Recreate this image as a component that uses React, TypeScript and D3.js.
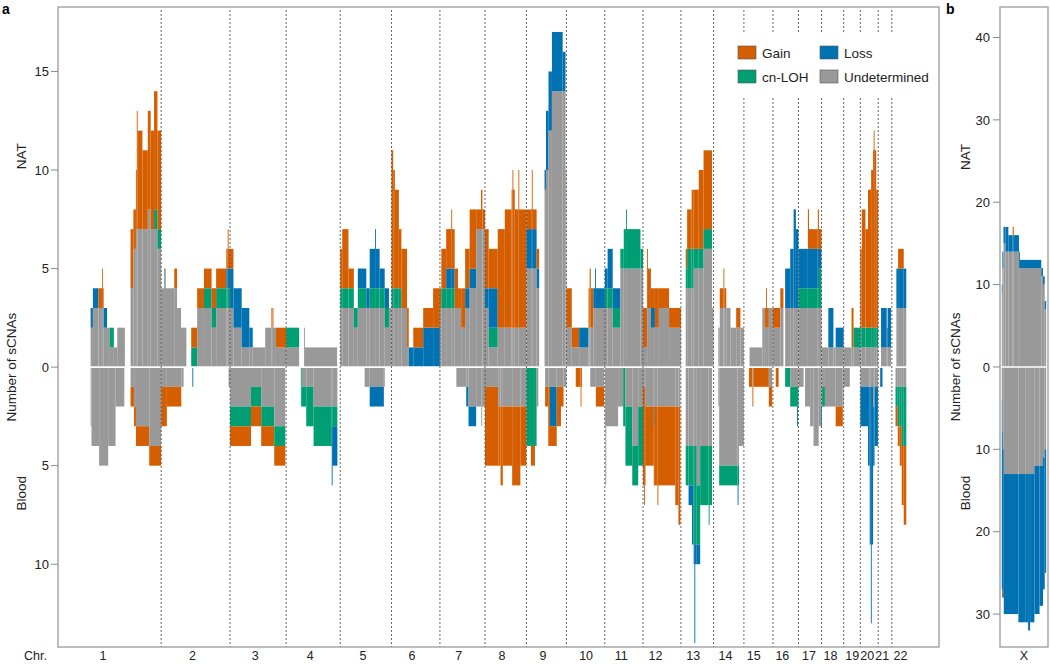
import React from 'react';
import * as d3 from 'd3';

// ---------------- data ----------------
const chromosomes = ['1','2','3','4','5','6','7','8','9','10','11','12','13','14','15','16','17','18','19','20','21','22'];
const chromLengthsMb = [249.25,243.2,198.02,191.15,180.92,171.12,159.14,146.36,141.21,135.53,135.01,133.85,115.17,107.35,102.53,90.35,81.2,78.08,59.13,63.03,48.13,51.3];
// label positions along the genome (Mb)
const chromLabelMb = [44,360,581,776,962,1135,1300,1453,1598,1750,1874,1995,2128,2242,2342,2443,2537,2613,2690,2743,2796,2860];
const xChromLengthMb = 155.27;

const categories = ['Undetermined','cn-LOH','Loss','Gain'];
const categoryColors = ['#999999','#009E73','#0072B2','#D55E00'];
const legendOrder = ['Gain','Loss','cn-LOH','Undetermined'];

const natTicks = [0,5,10,15];
const bloodTicks = [5,10];
const xNatTicks = [0,10,20,30,40];
const xBloodTicks = [10,20,30];

// [chromosome, startMb, endMb, undetermined, cnLOH, loss, gain]
const natSegments = [
  [1,0,8,2,0,1,0],[1,8,28,3,0,1,0],[1,28,40,3,0,0,1],[1,40,42,3,0,0,2],[1,42,46,3,0,0,1],[1,46,58,2,0,1,0],
  [1,58,68,2,0,0,0],[1,68,82,1,1,0,0],[1,82,94,1,0,0,0],[1,94,121,2,0,0,0],
  [1,141,151,4,0,0,3],[1,151,160,6,0,0,2],[1,160,163,7,0,0,3],[1,163,166,7,0,0,6],[1,166,183,7,0,0,5],
  [1,183,202,7,0,0,4],[1,202,212,8,0,0,5],[1,212,224,7,0,0,5],[1,224,236,7,1,0,6],[1,236,249,6,1,0,5],
  [2,0,10,4,0,0,0],[2,10,11,5,0,0,0],[2,11,13,4,0,0,0],[2,13,14,5,0,0,0],[2,14,46,4,0,0,0],[2,46,56,4,0,0,1],
  [2,56,70,3,0,0,0],[2,70,89,2,0,0,0],[2,106,127,0,1,0,1],[2,127,151,3,0,0,1],[2,151,178,3,1,0,1],
  [2,178,194,2,1,0,1],[2,194,230,3,1,0,1],[2,230,235,3,1,1,1],[2,235,236.5,3,1,1,2],[2,236.5,243,3,1,1,1],
  [3,0,12,3,0,2,1],[3,12,41,2,0,2,0],[3,41,68,1,0,2,0],[3,68,80,1,0,1,0],[3,80,124,1,0,0,0],
  [3,124,146,2,0,0,0],[3,146,147.5,2,0,0,1],[3,147.5,150,2,0,0,0],[3,150,151.5,2,0,0,1],[3,151.5,162,2,0,0,0],[3,162,198,1,0,0,1],
  [4,0,46,1,1,0,0],[4,63,66,2,0,0,0],[4,66,180,1,0,0,0],
  [5,0,7,3,1,0,2],[5,7,29,3,1,0,3],[5,29,48,3,1,0,1],[5,48,62,2,1,0,0],[5,62,92,3,1,1,0],[5,92,104,3,0,1,0],
  [5,104,123,3,1,2,0],[5,123,126,3,1,3,0],[5,126,139,3,1,2,0],[5,139,157,3,1,1,0],[5,157,172,2,1,1,0],[5,172,181,3,0,0,0],
  [6,0,6,3,1,0,7],[6,6,12,3,1,0,6],[6,12,26,3,1,0,5],[6,26,35,3,1,0,3],[6,35,55,3,0,0,3],[6,55,61,1,0,0,2],
  [6,61,77,0,0,1,0],[6,77,112,0,0,1,1],[6,112,147,0,0,2,1],[6,147,171,0,0,2,2],
  [7,0,5,3,0,0,1],[7,5,22,3,1,0,2],[7,22,40,3,1,1,2],[7,40,42,3,1,1,3],[7,42,52,3,1,1,2],[7,52,64,3,0,0,2],
  [7,64,75,3,0,0,1],[7,75,89,2,0,0,2],[7,89,105,3,0,1,2],[7,105,128,4,0,1,3],[7,128,145,7,0,0,1],[7,145,150,7,0,0,2],[7,150,159,7,0,0,1],
  [8,0,13,3,0,1,3],[8,13,45,1,1,2,2],[8,45,70,2,0,0,5],[8,70,94,2,0,0,6],[8,94,97,2,0,0,7],[8,97,98.5,2,0,0,8],
  [8,98.5,105,2,0,0,7],[8,105,118,2,0,0,6],[8,118,119.5,2,0,0,8],[8,119.5,146,2,0,0,6],
  [9,0,19,5,0,2,1],[9,19,21,5,0,2,3],[9,21,36,5,0,2,1],[9,36,45,4,0,1,1],
  [9,64,69,9,0,1,0],[9,69,78,10,0,3,0],[9,78,90,12,0,3,0],[9,90,128,14,0,3,0],[9,128,138,14,0,2,0],[9,138,141,10,0,0,0],
  [10,0,19,2,0,0,2],[10,19,45,1,0,0,1],[10,45,78,1,0,1,0],[10,78,82,2,0,0,2],[10,82,86,2,0,0,3],[10,86,95,2,0,0,2],
  [10,95,101,3,0,1,0],[10,101,103,3,0,2,0],[10,103,136,3,0,1,0],
  [11,0,10,3,1,1,0],[11,10,28,3,1,2,0],[11,28,55,2,1,1,0],[11,55,67,5,1,0,0],[11,67,75,5,2,0,0],[11,75,77,5,3,0,0],
  [11,77,126,5,2,0,0],[11,126,135,5,1,0,0],
  [12,0,14,1,0,0,2],[12,14,17,3,0,0,3],[12,17,28,3,0,0,2],[12,28,42,2,0,1,1],[12,42,56,2,0,0,2],[12,56,92,3,0,0,1],[12,92,134,2,0,0,1],
  [13,17,22,4,1,0,1],[13,22,38,4,2,0,2],[13,38,45,4,2,0,3],[13,45,63,5,1,0,3],[13,63,80,5,1,0,4],[13,80,110,6,1,0,4],[13,110,115,3,0,0,0],
  [14,17,22,2,0,0,0],[14,22,35,3,0,0,1],[14,35,38,3,0,0,2],[14,38,45,3,0,0,1],[14,45,60,3,0,0,0],[14,60,80,2,0,0,0],[14,80,95,2,0,0,1],[14,95,107,2,0,0,0],
  [15,20,65,1,0,0,0],[15,65,74,3,0,0,0],[15,74,78,2,0,0,1],[15,78,80,2,0,0,2],[15,80,88,2,0,0,1],[15,88,102,3,0,0,0],
  [16,0,26,2,0,0,1],[16,26,37,3,0,0,1],[16,43,61,3,0,2,0],[16,61,73,3,0,3,0],[16,73,81,3,0,5,0],[16,81,90,3,0,4,0],
  [17,0,33,3,1,2,0],[17,33,37,3,1,2,2],[17,37,68,3,1,2,1],[17,68,72,3,1,2,2],[17,72,81,3,2,1,1],
  [18,0,24,1,0,0,0],[18,24,42,1,0,2,0],[18,42,50,1,0,0,0],[18,50,78,1,0,1,0],
  [19,0,28,1,0,0,0],[19,28,35,1,0,0,2],[19,35,59,1,1,0,0],
  [20,0,5,1,1,0,4],[20,5,18,1,1,0,6],[20,18,27,1,1,0,5],[20,27,38,1,1,0,7],[20,38,45,1,1,0,8],[20,45,47,1,1,0,9],
  [20,47,49,1,1,0,10],[20,49,56,1,1,0,9],[20,56,63,1,1,0,7],
  [21,10,30,1,0,2,0],[21,30,33,1,0,1,0],[21,33,45,1,0,2,0],
  [22,16,22,3,0,2,0],[22,22,42,3,0,2,1],[22,42,51,3,0,2,0],
];

const bloodSegments = [
  [1,0,3,3,0,0,0],[1,3,30,4,0,0,0],[1,30,62,5,0,0,0],[1,62,88,4,0,0,0],[1,88,119,2,0,0,0],
  [1,141,153,1,0,0,1],[1,153,160,2,0,0,1],[1,160,207,3,0,0,1],[1,207,249,4,0,0,1],
  [2,0,20,1,0,0,2],[2,20,71,1,0,0,1],[2,71,79,1,0,0,0],[2,110,111.5,0,0,1,0],[2,238,243,1,0,0,0],
  [3,0,74,2,1,0,1],[3,74,110,1,1,0,1],[3,110,156,2,1,0,1],[3,156,195,3,1,0,1],
  [4,52,55,0,2,0,0],[4,55,71,1,1,0,0],[4,71,97,1,2,0,0],[4,97,161,2,2,0,0],[4,161,163,2,1,3,0],[4,163,181,2,1,2,0],
  [5,86,104,1,0,0,0],[5,104,154,1,0,1,0],[5,154,157,1,0,0,0],
  [7,58,93,1,0,0,0],[7,93,101,1,0,1,0],[7,101,128,2,0,1,0],[7,128,146,2,0,0,0],[7,146,149,3,0,0,0],[7,149,159,2,0,0,0],
  [8,0,47,1,0,0,4],[8,47,55,2,0,0,3],[8,55,63,2,0,0,4],[8,63,96,2,0,0,3],[8,96,125,2,0,0,4],[8,125,146,2,0,0,3],
  [9,0,16,0,4,0,0],[9,16,30,0,4,0,1],[9,30,36,0,4,0,0],[9,36,42,2,0,0,0],
  [9,66,77,1,0,0,1],[9,77,83,1,0,0,3],[9,83,107,1,0,2,1],[9,107,122,1,0,0,2],[9,122,131,1,0,0,1],[9,131,141,1,0,0,0],
  [10,33,50,0,0,0,1],[10,50,51.5,0,0,0,2],[10,51.5,53,0,0,0,1],[10,84,104,1,0,0,0],[10,104,133,1,0,0,1],
  [11,0,2,3,0,0,0],[11,2,4,6,0,0,0],[11,4,47,3,0,0,0],[11,47,65,2,0,0,0],[11,65,73,0,3,0,0],
  [11,73,97,2,3,0,0],[11,97,118,4,2,0,0],[11,118,135,2,3,0,0],
  [12,0,4,1,0,0,5],[12,4,5.5,1,0,0,6],[12,5.5,8,1,0,0,5],[12,8,38,2,0,0,3],[12,38,40,2,0,1,3],[12,40,51,2,0,0,4],
  [12,51,52.5,2,0,0,5],[12,52.5,114,2,0,0,4],[12,114,125,2,0,0,5],[12,125,132,2,0,0,6],
  [13,17,27,4,2,0,0],[13,27,39,4,2,1,0],[13,39,45,4,2,3,0],[13,45,47.5,4,5,1,0],[13,47.5,48.5,4,5,5,0],
  [13,48.5,56,4,5,1,0],[13,56,68,6,3,1,0],[13,68,98,4,3,0,0],[13,98,99.5,4,4,0,0],[13,99.5,110,4,3,0,0],
  [14,17,20,2,0,0,0],[14,20,85,5,1,0,0],[14,85,86.5,5,1,1,0],[14,86.5,90,5,1,0,0],[14,90,107,4,0,0,0],
  [15,18,30,0,0,0,1],[15,30,33,1,0,0,1],[15,33,88,0,0,0,1],[15,88,100,1,0,0,1],
  [16,10,20,0,0,0,1],[16,43,61,0,1,0,0],[16,61,85,1,1,0,0],[16,85,86.5,1,1,1,0],[16,86.5,90,1,1,0,0],
  [17,0,18,1,0,0,0],[17,23,41,2,0,0,0],[17,41,53,3,0,0,0],[17,53,71,4,0,0,0],[17,71,79,3,0,0,0],[17,79,81,2,0,1,0],
  [18,2,12,1,1,0,0],[18,12,50,2,0,0,0],[18,50,75,2,0,0,1],[18,75,78,2,0,0,0],
  [19,0,22,1,0,0,0],
  [20,0,27,1,0,2,0],[20,27,33,1,0,4,0],[20,33,37,1,0,8,0],[20,37,38.5,1,0,12,0],[20,38.5,45,1,0,8,0],[20,45,50,2,0,3,0],[20,50,62,1,0,3,0],
  [21,7,15,0,0,1,0],
  [22,13,21,1,1,0,1],[22,21,28,1,2,0,1],[22,28,35,1,2,0,2],[22,35,42,1,3,0,3],[22,42,51,1,3,0,4],
];

// chromosome X: [startMb, endMb, undetermined, cnLOH, loss, gain]
const xNatSegments = [
  [0,2,9,0,1,0],[2,6,12,0,2,0],[6,13,15,0,2,0],[13,23,14,0,3,0],[23,38,14,0,2,0],[38,42,14,0,2,1],[42,60,14,0,2,0],
  [60,63,12,0,2,0],[63,138,12,0,1,0],[138,144,11,0,1,0],[144,150,10,0,1,0],[150,155,7,0,1,0],
];
const xBloodSegments = [
  [0,1.5,4,0,23,0],[1.5,3,8,0,19,1],[3,7,10,0,18,0],[7,58,13,0,17,0],[58,84,13,0,18,0],[84,85,13,1,17,0],[85,92,13,0,18,0],
  [92,99,13,0,19,0],[99,114,13,0,18,0],[114,132,12,0,18,0],[132,144,12,0,17,0],[144,150,11,0,16,0],[150,155,10,0,15,0],
];

// ---------------- component ----------------
const FONT = '"Liberation Sans", Arial, Helvetica, sans-serif';

function stackRects(segs: number[][], xs: (v: number) => number, ys: (v: number) => number, sign: number, offsetOf: (s: number[]) => number, startIdx: number, key: string) {
  const out: React.ReactNode[] = [];
  segs.forEach((s, i) => {
    const off = offsetOf(s);
    const x0 = xs(off + s[startIdx]);
    const x1 = xs(off + s[startIdx + 1]);
    const w = Math.max(x1 - x0, 0.9);
    let base = 0;
    for (let k = 0; k < 4; k++) {
      const v = s[startIdx + 2 + k];
      if (v > 0) {
        const ya = ys(sign * base);
        const yb = ys(sign * (base + v));
        out.push(
          <rect key={`${key}-${i}-${k}`} x={x0} width={w} y={Math.min(ya, yb)} height={Math.abs(yb - ya)} fill={categoryColors[k]} />
        );
        base += v;
      }
    }
  });
  return out;
}

export default function App() {
  const W = 1050, H = 664;
  const left = 58, right = 939, top = 7, bottom = 647;
  const genomeLen = d3.sum(chromLengthsMb);
  const pad = genomeLen * 0.04;
  const x = d3.scaleLinear().domain([-pad, genomeLen + pad]).range([left, right]);
  const y = d3.scaleLinear().domain([-14.2, 18.27]).range([bottom, top]);
  const offsets = chromLengthsMb.map((_, i) => d3.sum(chromLengthsMb.slice(0, i)));
  const chrOffset = (s: number[]) => offsets[s[0] - 1];

  const bLeft = 1000, bRight = 1048;
  const bPad = xChromLengthMb * 0.04;
  const xb = d3.scaleLinear().domain([-bPad, xChromLengthMb + bPad]).range([bLeft, bRight]);
  const yb = d3.scaleLinear().domain([-34.0, 43.7]).range([bottom, top]);

  const boundaries = offsets.slice(1);
  const textCol = '#222';
  const axisCol = '#8a8a8a';
  const labelBase = 660;

  const legendX = 738, legendY = 46;
  const legendItems = legendOrder.map((name, i) => ({
    name,
    color: categoryColors[categories.indexOf(name)],
    col: i % 2,
    row: Math.floor(i / 2),
  }));

  return (
    <svg width={W} height={H} style={{ position: 'fixed', left: 0, top: 0, background: '#fff' }} fontFamily={FONT}>
      <rect x={0} y={0} width={W} height={H} fill="#fff" />
      {/* panel a bars */}
      <g>
        {stackRects(natSegments, x, y, 1, chrOffset, 1, 'n')}
        {stackRects(bloodSegments, x, y, -1, chrOffset, 1, 'b')}
      </g>
      {/* zero line */}
      <line x1={left} x2={right} y1={y(0)} y2={y(0)} stroke="#fff" strokeWidth={1.6} />
      {/* chromosome boundaries */}
      {boundaries.map((b, i) => (
        <line key={`bd${i}`} x1={x(b)} x2={x(b)} y1={top + 3} y2={bottom} stroke="#555" strokeWidth={0.9} strokeDasharray="2,2" />
      ))}
      {/* legend */}
      <rect x={733} y={33} width={202} height={64} fill="#fff" />
      {legendItems.map((it) => (
        <g key={it.name} transform={`translate(${legendX + it.col * 82},${legendY + it.row * 24})`}>
          <rect x={0} y={0} width={18} height={13} fill={it.color} stroke="#555" strokeWidth={0.6} />
          <text x={24} y={11.5} fontSize={13.5} fill={textCol}>{it.name}</text>
        </g>
      ))}
      {/* frame */}
      <rect x={left} y={top} width={right - left} height={bottom - top} fill="none" stroke="#9a9a9a" strokeWidth={1.3} />
      {/* y axis */}
      {natTicks.map((t) => (
        <g key={`nt${t}`}>
          <line x1={left - 7} x2={left} y1={y(t)} y2={y(t)} stroke={axisCol} strokeWidth={1} />
          <text x={left - 9} y={y(t)} dy="0.36em" textAnchor="end" fontSize={13} fill={textCol}>{t}</text>
        </g>
      ))}
      {bloodTicks.map((t) => (
        <g key={`bt${t}`}>
          <line x1={left - 7} x2={left} y1={y(-t)} y2={y(-t)} stroke={axisCol} strokeWidth={1} />
          <text x={left - 9} y={y(-t)} dy="0.36em" textAnchor="end" fontSize={13} fill={textCol}>{t}</text>
        </g>
      ))}
      <text transform={`translate(26,${y(10.7)}) rotate(-90)`} textAnchor="middle" fontSize={13.5} fill={textCol}>NAT</text>
      <text transform={`translate(16,${y(0)}) rotate(-90)`} textAnchor="middle" fontSize={13.5} fill={textCol}>Number of sCNAs</text>
      <text transform={`translate(26,${y(-6.4)}) rotate(-90)`} textAnchor="middle" fontSize={13.5} fill={textCol}>Blood</text>
      {/* x labels */}
      <text x={47} y={labelBase} textAnchor="end" fontSize={12.5} fill={textCol}>Chr.</text>
      {chromosomes.map((c, i) => (
        <text key={`cl${c}`} x={x(chromLabelMb[i])} y={labelBase} textAnchor="middle" fontSize={12.5} fill={textCol}>{c}</text>
      ))}
      <text x={2} y={14} fontSize={14} fontWeight="bold" fill="#000">a</text>

      {/* panel b */}
      <g>
        {stackRects(xNatSegments, xb, yb, 1, () => 0, 0, 'xn')}
        {stackRects(xBloodSegments, xb, yb, -1, () => 0, 0, 'xb')}
      </g>
      <line x1={bLeft} x2={bRight} y1={yb(0)} y2={yb(0)} stroke="#fff" strokeWidth={1.6} />
      <rect x={bLeft} y={top} width={bRight - bLeft} height={bottom - top} fill="none" stroke="#9a9a9a" strokeWidth={1.3} />
      {xNatTicks.map((t) => (
        <g key={`xnt${t}`}>
          <line x1={bLeft - 7} x2={bLeft} y1={yb(t)} y2={yb(t)} stroke={axisCol} strokeWidth={1} />
          <text x={bLeft - 10} y={yb(t)} dy="0.36em" textAnchor="end" fontSize={13} fill={textCol}>{t}</text>
        </g>
      ))}
      {xBloodTicks.map((t) => (
        <g key={`xbt${t}`}>
          <line x1={bLeft - 7} x2={bLeft} y1={yb(-t)} y2={yb(-t)} stroke={axisCol} strokeWidth={1} />
          <text x={bLeft - 10} y={yb(-t)} dy="0.36em" textAnchor="end" fontSize={13} fill={textCol}>{t}</text>
        </g>
      ))}
      <text transform={`translate(970,${yb(25.5)}) rotate(-90)`} textAnchor="middle" fontSize={13.5} fill={textCol}>NAT</text>
      <text transform={`translate(960,${yb(0)}) rotate(-90)`} textAnchor="middle" fontSize={13.5} fill={textCol}>Number of  sCNAs</text>
      <text transform={`translate(970,${yb(-15.3)}) rotate(-90)`} textAnchor="middle" fontSize={13.5} fill={textCol}>Blood</text>
      <text x={(bLeft + bRight) / 2} y={labelBase} textAnchor="middle" fontSize={12.5} fill={textCol}>X</text>
      <text x={946} y={14} fontSize={14} fontWeight="bold" fill="#000">b</text>
    </svg>
  );
}
